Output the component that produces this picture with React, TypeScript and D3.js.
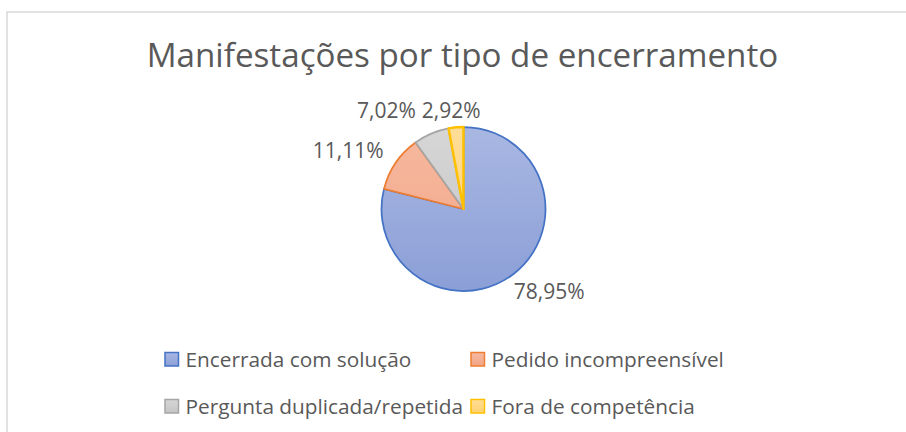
import React, { useEffect, useRef } from "react";
import * as d3 from "d3";

const title = "Manifestações por tipo de encerramento";
const categories = [
  "Encerrada com solução",
  "Pedido incompreensível",
  "Pergunta duplicada/repetida",
  "Fora de competência",
];
const percentages = [78.95, 11.11, 7.02, 2.92];
const strokeColors = ["#4472c4", "#ed7d31", "#a5a5a5", "#ffc000"];
const fillTop = ["#a9b7e2", "#f6b9a0", "#d6d6d6", "#ffdd96"];
const fillBottom = ["#8b9fd7", "#f2a586", "#c4c4c4", "#ffd272"];

const W = 906;
const H = 432;
const FONT = "'Open Sans', 'Noto Sans', sans-serif";
const TEXT = "#595959";

export default function App() {
  const ref = useRef<SVGSVGElement | null>(null);

  useEffect(() => {
    const svg = d3.select(ref.current);
    svg.selectAll("*").remove();

    // chart frame
    svg
      .append("rect")
      .attr("x", 7)
      .attr("y", 12)
      .attr("width", 1000)
      .attr("height", 1000)
      .attr("fill", "#fff")
      .attr("stroke", "#d9d9d9")
      .attr("stroke-width", 1.5);

    // title
    svg
      .append("text")
      .attr("x", 462.5)
      .attr("y", 67)
      .attr("text-anchor", "middle")
      .attr("font-family", FONT)
      .attr("font-size", 33.2)
      .attr("fill", TEXT)
      .text(title);

    const cx = 463.5;
    const cy = 209;
    const r = 82;

    const defs = svg.append("defs");
    categories.forEach((_, i) => {
      const g = defs
        .append("linearGradient")
        .attr("id", `grad${i}`)
        .attr("gradientUnits", "userSpaceOnUse")
        .attr("x1", 0)
        .attr("y1", -r)
        .attr("x2", 0)
        .attr("y2", r);
      g.append("stop").attr("offset", "0%").attr("stop-color", fillTop[i]);
      g.append("stop").attr("offset", "100%").attr("stop-color", fillBottom[i]);
      const lg = defs
        .append("linearGradient")
        .attr("id", `lgrad${i}`)
        .attr("x1", 0)
        .attr("y1", 0)
        .attr("x2", 0)
        .attr("y2", 1);
      lg.append("stop").attr("offset", "0%").attr("stop-color", fillTop[i]);
      lg.append("stop").attr("offset", "100%").attr("stop-color", fillBottom[i]);
    });

    const pie = d3.pie<number>().sort(null).value((d) => d);
    const arcs = pie(percentages);
    const arc = d3.arc<d3.PieArcDatum<number>>().innerRadius(0).outerRadius(r);

    const gPie = svg.append("g").attr("transform", `translate(${cx},${cy})`);
    gPie
      .selectAll("path")
      .data(arcs)
      .join("path")
      .attr("d", arc as any)
      .attr("fill", (_, i) => `url(#grad${i})`)
      .attr("stroke", (_, i) => strokeColors[i])
      .attr("stroke-width", (_, i) => (i === 3 ? 2.5 : 1.75))
      .attr("stroke-linejoin", "round");

    // data labels
    const fmt = (v: number) => d3.format(".2f")(v).replace(".", ",") + "%";
    const labelSize = 21;
    const capH = labelSize * 0.714;
    const gLab = svg.append("g");
    const boxes = arcs.map((a, i) => {
      const mid = (a.startAngle + a.endAngle) / 2;
      const s = Math.sin(mid);
      const c = Math.cos(mid);
      const t = gLab
        .append("text")
        .attr("font-family", FONT)
        .attr("font-size", labelSize)
        .attr("fill", TEXT)
        .attr("text-anchor", "middle")
        .text(fmt(percentages[i]));
      const w = (t.node() as SVGTextElement).getComputedTextLength();
      const d = r + 22;
      const x = cx + s * (d + w / 2);
      const y = cy - c * d;
      return { t, x, y, w };
    });
    // resolve overlaps: push the earlier (left) label leftwards and share one line
    for (let i = boxes.length - 1; i > 0; i--) {
      const b = boxes[i];
      const p = boxes[i - 1];
      const overlapY = Math.abs(b.y - p.y) < capH + 4;
      const pRight = p.x + p.w / 2;
      const bLeft = b.x - b.w / 2;
      if (overlapY && pRight > bLeft - 6 && p.x < b.x) {
        p.x -= pRight - (bLeft - 6);
        const yy = (p.y + b.y) / 2 + 1.5;
        p.y = yy;
        b.y = yy;
      }
    }
    boxes.forEach((b) => b.t.attr("x", b.x).attr("y", b.y + capH / 2));

    // legend
    const legendSize = 20.8;
    const colX = [165, 471];
    const rowY = [359.5, 406.5];
    const gLeg = svg.append("g");
    categories.forEach((name, i) => {
      const col = i % 2;
      const row = Math.floor(i / 2);
      const mx = colX[col];
      const my = rowY[row];
      gLeg
        .append("rect")
        .attr("x", mx)
        .attr("y", my - 7)
        .attr("width", 13.5)
        .attr("height", 13.5)
        .attr("fill", `url(#lgrad${i})`)
        .attr("stroke", strokeColors[i])
        .attr("stroke-width", 1.5);
      gLeg
        .append("text")
        .attr("x", mx + 20.5)
        .attr("y", my + 7)
        .attr("font-family", FONT)
        .attr("font-size", legendSize)
        .attr("fill", TEXT)
        .text(name);
    });
  }, []);

  return (
    <svg
      ref={ref}
      width={W}
      height={H}
      style={{ position: "absolute", left: 0, top: 0, background: "#fff" }}
    />
  );
}
